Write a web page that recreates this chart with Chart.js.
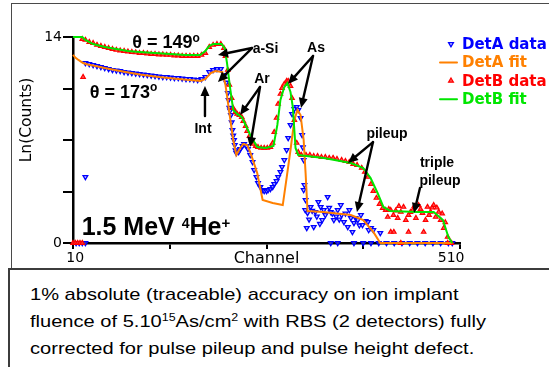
<!DOCTYPE html>
<html><head><meta charset="utf-8">
<script src="https://cdn.jsdelivr.net/npm/chart.js@4/dist/chart.umd.min.js"></script>
<style>
html,body{margin:0;padding:0;background:#fff;width:549px;height:367px;overflow:hidden;}
#wrap{position:relative;width:549px;height:367px;}
#c{position:absolute;left:0;top:0;}
#frameTop{position:absolute;left:11px;top:3px;width:600px;height:265px;border-left:1.6px solid #4a4a4a;border-top:1.6px solid #4a4a4a;pointer-events:none;}
#frameBottom{position:absolute;left:8px;top:268px;width:600px;height:130px;border:2px solid #3c3c3c;}
#caption{position:absolute;left:30px;top:281px;font-family:'Liberation Sans',Arial,sans-serif;font-size:16.6px;line-height:27px;color:#000;transform:scaleX(1.21);transform-origin:0 0;white-space:nowrap;}
#caption sup{font-size:0.62em;line-height:0;vertical-align:0.55em;}
</style></head>
<body><div id="wrap">
<div id="frameTop"></div>
<div id="frameBottom"></div>
<canvas id="c" width="549" height="270"></canvas>
<div id="caption">1% absolute (traceable) accuracy on ion implant<br>fluence of 5.10<sup>15</sup>As/cm<sup>2</sup> with RBS (2 detectors) fully<br>corrected for pulse pileup and pulse height defect.</div>
</div>
<script>
// ---------- data (channel, Ln(counts)) ----------
const seriesNames = ['DetA data', 'DetA fit', 'DetB data', 'DetB fit'];

const detAChannel = [14,18,22,26,26,
 26,31,36,41,46,51,56,61,66,71,76,81,86,91,96,101,106,111,116,121,126,131,136,141,146,151,156,161,166,171,176,181,186,191,196,201,206,
 208,210,211,212,213,214,215,216,217,218,219,220,221,224,226,229,231,234,236,239,242,244,247,249,252,255,257,260,262,265,268,270,273,275,278,280,283,286,288,291,293,296,299,301,304,306,307,308,309,310,312,
 308,310.5,313,315,317,319,321,323,325,327,329,330,332,334,336,339,341,343,345,347,350,352,354,356,357,360,362,365,367,369,371,373,375,378,380,382,384,388,391,392,395,398,407,
 343,352,373,385,395,405,415,425,435,445,455,465,475,485,495,500];
const detACounts = [0,0,0,0,4.49,
 12.23,12.17,12.10,12.03,11.96,11.89,11.83,11.76,11.72,11.69,11.62,11.59,11.55,11.52,11.49,11.45,11.42,11.38,11.35,11.32,11.28,11.28,11.25,11.21,11.21,11.18,11.15,11.15,11.11,11.08,11.15,11.28,11.62,11.76,11.83,11.83,11.42,
 10.9,10.2,9.72,9.2,9.0,8.70,8.2,7.68,7.3,7.0,6.66,6.3,6.12,6.18,6.39,6.59,6.73,6.59,6.39,5.98,5.50,4.96,4.49,4.08,3.81,3.60,3.53,3.53,3.60,3.67,3.81,4.01,4.21,4.49,4.83,5.17,5.64,6.32,7.14,8.02,8.77,9.11,9.24,9.04,8.50,7.34,6.5,5.64,3.94,2.24,1.02,
 3.60,2.92,2.04,1.6,2.45,2.2,1.09,2.11,1.8,2.79,1.3,2.45,1.56,2.24,1.9,3.13,2.4,2.11,2.0,1.56,1.8,2.24,1.6,2.58,1.90,1.43,2.0,1.09,2.24,1.70,0.75,1.36,1.7,1.56,1.2,1.90,1.22,1.5,1.43,0.88,1.02,0.88,0.68,
 0,0,0,0,0,0,0,0,0,0,0,0,0,0,0,0];

const detAFitChannel = [10,13,17,23,29,36,51,71,96,121,146,175,181,188,194,203,207,211,217,221,226,230,235,239,248,255,268,281,286,291,296,300,304,308,310.5,313,333,369,385,398,407,500];
const detAFitCounts  = [12.78,12.6,12.44,12.23,12.13,12.06,11.89,11.69,11.45,11.28,11.15,11.01,11.15,11.55,11.69,11.62,10.74,9.24,7.0,5.98,6.46,6.73,6.66,6.18,4.76,2.92,2.72,2.58,4.42,6.32,8.36,9.04,8.70,7.0,4.76,2.17,2.11,1.90,1.56,0.75,0,0];

const detBChannel = [10,13,16,19,22,23,
 22,26,31,36,41,46,51,56,61,66,71,76,81,86,91,96,101,106,111,116,121,126,131,136,141,146,151,156,161,166,171,176,181,186,191,196,201,205,207,
 210,212,215,217,220,222,225,228,230,233,235,238,241,243,246,249,253,257,261,265,268,270,273,275,278,280,283,286,288,291,293,296,299,301,305,311,316,321,326,331,336,341,346,351,357,362,367,372,377,383,387,391,395,398,402,406,410,414,
 416.6,418,420.5,420.5,424,424.5,427,429.5,431,433.5,433.5,437,440,443.5,443.5,446,449,451,453,456.5,459,461.5,463,465.5,468,470,472,474,476,478.6,480,482.5,485,487,489,491,494,494,499];
const detBCounts = [0,0,0,0,0,11.28,
 13.86,13.80,13.66,13.59,13.46,13.39,13.32,13.25,13.18,13.12,13.08,13.05,13.01,12.98,12.95,12.91,12.91,12.88,12.84,12.84,12.81,12.81,12.78,12.78,12.74,12.74,12.71,12.71,12.71,12.71,12.71,12.78,12.91,13.32,13.46,13.52,13.52,13.25,12.71,
 11.76,10.74,9.85,9.17,8.90,8.77,8.70,8.56,8.29,7.95,7.61,7.27,7.00,6.73,6.59,6.52,6.46,6.46,6.46,6.52,6.80,7.54,8.50,9.45,10.13,10.53,10.81,11.01,11.01,10.67,9.85,8.36,6.80,6.18,5.98,5.98,5.98,5.91,5.91,5.84,5.84,5.78,5.78,5.71,5.64,5.57,5.50,5.37,5.30,5.10,4.83,4.49,4.01,3.53,3.06,2.65,2.38,2.24,
 1.77,2.3,2.24,0.75,1.90,0.75,2.2,1.70,2.5,2.11,0,2.45,1.56,1.90,0.75,2.1,2.24,2.5,1.70,2.58,2.3,2.04,0.75,1.56,2.45,1.9,2.11,2.4,2.58,1.77,2.4,2.11,1.56,2.0,1.02,1.4,0.41,0,0];

const detBFitChannel = [10,22,26,36,51,66,81,96,116,136,156,174,181,186,191,202,206,209,213,217,222,228,233,239,248,259,269,274,278,283,287,291,294,297.5,301,334,369,385,394.5,403.5,411,420,455,476,488,495,500];
const detBFitCounts  = [14.0,14.0,13.80,13.52,13.32,13.18,13.05,12.98,12.91,12.84,12.78,12.78,13.05,13.39,13.52,13.52,13.25,12.23,10.53,9.04,8.77,8.56,8.02,7.34,6.52,6.46,6.59,8.02,9.72,10.6,10.87,10.26,9.24,6.46,5.98,5.78,5.44,5.10,4.42,3.40,2.45,2.17,2.11,2.11,1.56,0.41,0];

const xTickValues = [10, 135, 260, 385, 510];
const xTickLabels = ['\u00a010', '', '', '', '510\u00a0\u00a0\u00a0\u00a0'];
const yTickValues = [0, 3.5, 7, 10.5, 14];
const yTickLabels = ['0', '', '', '', '14'];
const xTitle = 'Channel';
const yTitle = 'Ln(Counts)';

// ---------- annotations (anchored in data units) ----------
const notes = [
  {parts: [['θ = 149', 18, 0], ['o', 12, 6.5]], x: 130.2, y: 13.69},
  {parts: [['θ = 173', 18, 0], ['o', 12, 6.5]], x: 75.2, y: 10.30},
  {parts: [['a-Si', 14, 0]], x: 258.7, y: 13.25},
  {parts: [['Ar', 14, 0]], x: 254.2, y: 11.21},
  {parts: [['As', 14, 0]], x: 324, y: 13.32},
  {parts: [['Int', 14, 0]], x: 178, y: 7.82},
  {parts: [['pileup', 14, 0]], x: 415.7, y: 7.48},
  {parts: [['triple', 14, 0]], x: 480.3, y: 5.50},
  {parts: [['pileup', 14, 0]], x: 484.2, y: 4.28},
  {parts: [['1.5 MeV ', 25, 0], ['4', 14, 7], ['He', 25, 0], ['+', 15, 6.5]], x: 21.2, y: 1.155, align: 'left'}
];
const arrows = [
  [241.3, 13.25, 197.3, 12.78], [241.3, 13.25, 197.3, 10.94],
  [251.6, 10.6, 225.8, 8.70], [251.6, 10.6, 238.7, 6.52],
  [320.1, 12.71, 287.8, 10.8], [320.1, 12.71, 304.6, 9.17],
  [180.5, 8.63, 180.5, 10.67],
  [397.6, 6.86, 365.3, 5.44], [397.6, 6.86, 376.9, 2.11],
  [458.3, 3.74, 450.6, 2.04]
];

const colors = {detA: '#0000ff', detAFit: '#ff8000', detB: '#ff0000', detBFit: '#00e600'};
const pts = (xs, ys) => xs.map((x, i) => ({x: x, y: ys[i]}));

function drawArrow(ctx, x1, y1, x2, y2) {
  const ang = Math.atan2(y2 - y1, x2 - x1);
  const hl = 10, hw = 4.5;
  const bx = x2 - Math.cos(ang) * hl, by = y2 - Math.sin(ang) * hl;
  ctx.beginPath();
  ctx.moveTo(x1, y1); ctx.lineTo(bx, by);
  ctx.stroke();
  ctx.beginPath();
  ctx.moveTo(x2, y2);
  ctx.lineTo(bx + Math.sin(ang) * hw, by - Math.cos(ang) * hw);
  ctx.lineTo(bx - Math.sin(ang) * hw, by + Math.cos(ang) * hw);
  ctx.closePath();
  ctx.fill();
}

const decorPlugin = {
  id: 'decor',
  afterDatasetsDraw(chart) {
    const ctx = chart.ctx, xs = chart.scales.x, ys = chart.scales.y, area = chart.chartArea;
    ctx.save();
    ctx.strokeStyle = '#000'; ctx.fillStyle = '#000'; ctx.lineWidth = 2.4; ctx.lineCap = 'round';
    arrows.forEach(a => drawArrow(ctx, xs.getPixelForValue(a[0]), ys.getPixelForValue(a[1]), xs.getPixelForValue(a[2]), ys.getPixelForValue(a[3])));
    ctx.textBaseline = 'alphabetic'; ctx.textAlign = 'left';
    notes.forEach(n => {
      let total = 0;
      n.parts.forEach(p => { ctx.font = 'bold ' + p[1] + 'px "Liberation Sans", Arial, sans-serif'; total += ctx.measureText(p[0]).width; });
      let x = xs.getPixelForValue(n.x);
      if (n.align !== 'left') x -= total / 2;
      const main = n.parts[0][1];
      const base = ys.getPixelForValue(n.y) + 0.358 * main;
      n.parts.forEach(p => {
        ctx.font = 'bold ' + p[1] + 'px "Liberation Sans", Arial, sans-serif';
        ctx.fillText(p[0], x, base - p[2]);
        x += ctx.measureText(p[0]).width;
      });
    });
    ctx.save();
    ctx.translate(area.left - 46, area.top + 83);
    ctx.rotate(-Math.PI / 2);
    ctx.font = '15.5px "DejaVu Sans", sans-serif';
    ctx.textAlign = 'center'; ctx.textBaseline = 'middle'; ctx.fillStyle = '#000';
    ctx.fillText(yTitle, 0, 0);
    ctx.restore();
    const lx = area.right - 11, tx = area.right + 2;
    chart.data.datasets.forEach((ds, i) => {
      const ry = area.top + 7 + i * 18.4;
      if (ds.showLine) {
        ctx.strokeStyle = ds.borderColor; ctx.lineWidth = 2;
        ctx.beginPath(); ctx.moveTo(lx - 9, ry); ctx.lineTo(lx + 8, ry); ctx.stroke();
      } else {
        ctx.strokeStyle = ds.borderColor; ctx.fillStyle = ds.backgroundColor; ctx.lineWidth = ds.borderWidth;
        Chart.helpers.drawPoint(ctx, {pointStyle: 'triangle', rotation: ds.pointRotation || 0, radius: 2.8, borderWidth: ds.borderWidth}, lx + 2, ry);
      }
      ctx.fillStyle = ds.borderColor;
      ctx.font = 'bold 15px "DejaVu Sans", sans-serif';
      ctx.textAlign = 'left'; ctx.textBaseline = 'middle';
      ctx.fillText(ds.label, tx, ry + 1);
    });
    ctx.restore();
  }
};

new Chart(document.getElementById('c'), {
  type: 'scatter',
  data: {
    datasets: [
      {label: seriesNames[0], data: pts(detAChannel, detACounts), showLine: false, pointStyle: 'triangle', pointRotation: 180, pointRadius: 2.7, borderColor: colors.detA, backgroundColor: 'rgba(150,150,255,0.5)', borderWidth: 1.3, order: 3, clip: false},
      {label: seriesNames[1], data: pts(detAFitChannel, detAFitCounts), showLine: true, pointRadius: 0, borderColor: colors.detAFit, backgroundColor: colors.detAFit, borderWidth: 2, tension: 0, order: 1, clip: false},
      {label: seriesNames[2], data: pts(detBChannel, detBCounts), showLine: false, pointStyle: 'triangle', pointRadius: 2.6, borderColor: colors.detB, backgroundColor: 'rgba(255,60,60,0.85)', borderWidth: 1.2, order: 2, clip: false},
      {label: seriesNames[3], data: pts(detBFitChannel, detBFitCounts), showLine: true, pointRadius: 0, borderColor: colors.detBFit, backgroundColor: colors.detBFit, borderWidth: 2, tension: 0, order: 0, clip: false}
    ]
  },
  options: {
    responsive: false, animation: false, devicePixelRatio: 1,
    layout: {padding: {left: 0, top: 37, right: 89, bottom: 0}},
    plugins: {legend: {display: false}, tooltip: {enabled: false}},
    events: [],
    scales: {
      x: {
        type: 'linear', min: 10, max: 510,
        afterBuildTicks: s => { s.ticks = xTickValues.map(v => ({value: v})); },
        afterFit: s => { s.height = 27; },
        ticks: {callback: (v, i) => xTickLabels[i], font: {family: 'DejaVu Sans', size: 14}, color: '#000', padding: 1, maxRotation: 0, autoSkip: false},
        grid: {drawOnChartArea: false, drawTicks: true, tickLength: 6, color: '#000', lineWidth: 2},
        border: {display: true, color: '#000', width: 2.5},
        title: {display: true, text: xTitle, font: {family: 'DejaVu Sans', size: 16}, color: '#000', padding: {top: 0, bottom: 2}}
      },
      y: {
        type: 'linear', min: 0, max: 14,
        afterBuildTicks: s => { s.ticks = yTickValues.map(v => ({value: v})); },
        afterFit: s => { s.width = 73; },
        ticks: {callback: (v, i) => yTickLabels[i], font: {family: 'DejaVu Sans', size: 14}, color: '#000', padding: 1},
        grid: {drawOnChartArea: false, drawTicks: true, tickLength: 10, color: '#000', lineWidth: 2},
        border: {display: true, color: '#000', width: 2.5}
      }
    }
  },
  plugins: [decorPlugin]
});
</script>
</body></html>
